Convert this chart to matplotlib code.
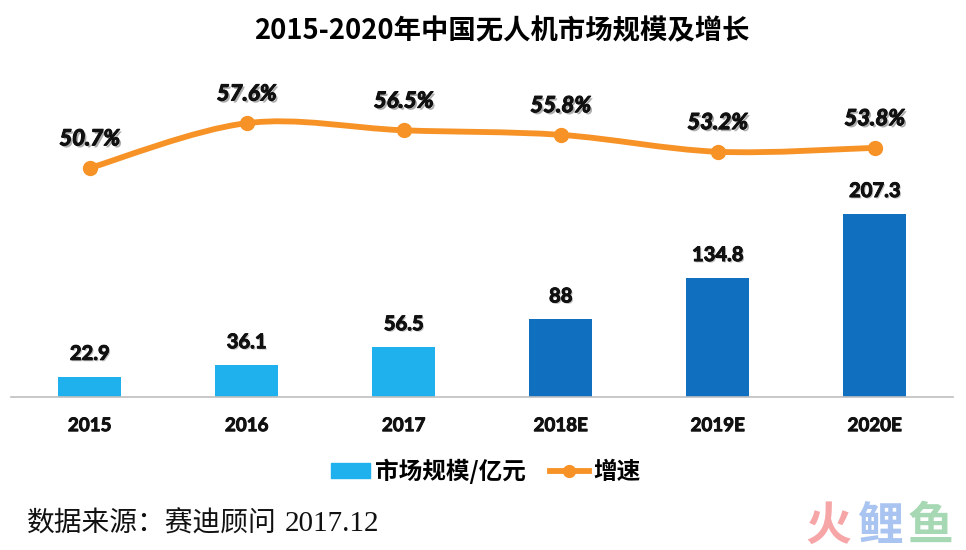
import matplotlib
matplotlib.use("Agg")
import matplotlib.pyplot as plt
import matplotlib.patheffects as pe
from matplotlib.path import Path
from matplotlib.patches import PathPatch, Patch
from matplotlib.lines import Line2D

categories = ["2015", "2016", "2017", "2018E", "2019E", "2020E"]
market_size = [22.9, 36.1, 56.5, 88, 134.8, 207.3]
growth = [50.7, 57.6, 56.5, 55.8, 53.2, 53.8]
growth_labels = ["50.7%", "57.6%", "56.5%", "55.8%", "53.2%", "53.8%"]
size_labels = ["22.9", "36.1", "56.5", "88", "134.8", "207.3"]
bar_colors = ["#1FB1EE", "#1FB1EE", "#1FB1EE", "#1070BF", "#1070BF", "#1070BF"]
LINE = "#F79227"
CJK = ["Noto Sans CJK SC", "DejaVu Sans"]
LATIN_BOLD = ["Lato", "Noto Sans CJK SC"]

W, H = 966, 550
fig = plt.figure(figsize=(W / 100, H / 100), dpi=100, facecolor="white")
top_px, base_px = 60, 397
ax = fig.add_axes([11.2 / W, 1 - base_px / H, 942 / W, (base_px - top_px) / H])
ax.set_xlim(-0.5, 5.5)
ax.set_ylim(0, (base_px - top_px) / 0.883)
ax.patch.set_alpha(0)
for s in ["top", "left", "right"]:
    ax.spines[s].set_visible(False)
ax.spines["bottom"].set_color("#BFBFBF")
ax.spines["bottom"].set_linewidth(1.2)
ax.set_yticks([])
x = list(range(len(categories)))
ax.bar(x, market_size, width=0.4, color=bar_colors, zorder=2)
ax.set_xticks(x)
ax.set_xticklabels(categories, family=LATIN_BOLD, fontweight="bold", fontsize=13.5, color="#111111",
                   path_effects=[pe.withStroke(linewidth=0.7, foreground="#111111")])
ax.tick_params(axis="x", length=0, pad=14.5)
for xi, v, lab in zip(x, market_size, size_labels):
    ax.annotate(lab, (xi, v), xytext=(0, 16.5), textcoords="offset points", ha="center", va="center",
                family=LATIN_BOLD, fontweight="bold", fontsize=14.5, color="#111111",
                path_effects=[pe.withSimplePatchShadow(offset=(1, -1), shadow_rgbFace="#999999", alpha=0.6),
                              pe.withStroke(linewidth=0.7, foreground="#111111")])

ax2 = fig.add_axes(ax.get_position(), sharex=ax)
ax2.patch.set_alpha(0)
ax2.axis("off")
ax2.set_ylim(50.7 - (base_px - 168) / 6.5, 50.7 + (168 - top_px) / 6.5)

# smooth curve through the data points (cubic Bezier segments)
verts = [(x[0], growth[0])]
codes = [Path.MOVETO]
n = len(x)
for i in range(n - 1):
    a, b = max(i - 1, 0), min(i + 2, n - 1)
    c1 = (x[i] + (x[i + 1] - x[a]) / 6, growth[i] + (growth[i + 1] - growth[a]) / 6)
    c2 = (x[i + 1] - (x[b] - x[i]) / 6, growth[i + 1] - (growth[b] - growth[i]) / 6)
    verts += [c1, c2, (x[i + 1], growth[i + 1])]
    codes += [Path.CURVE4] * 3
ax2.add_patch(PathPatch(Path(verts, codes), fc="none", ec=LINE, lw=4.2, capstyle="round", zorder=3))
ax2.plot(x, growth, ls="none", marker="o", ms=10, color=LINE, zorder=4)
for xi, v, lab in zip(x, growth, growth_labels):
    ax2.annotate(lab, (xi, v), xytext=(0, 21), textcoords="offset points", ha="center", va="center",
                 family=LATIN_BOLD, fontweight="bold", fontstyle="italic", fontsize=16, color="#111111",
                 path_effects=[pe.withSimplePatchShadow(offset=(1.5, -1.5), shadow_rgbFace="#777777", alpha=0.6),
                               pe.withStroke(linewidth=0.8, foreground="#111111")])

def fx(px): return px / W
def fy(py): return 1 - py / H

fig.text(fx(502), fy(31), "2015-2020年中国无人机市场规模及增长", ha="center", va="center",
         family=CJK, fontweight="bold", fontsize=19.7, color="black")

# legend entries
handles = [Patch(color="#1FB1EE"),
           Line2D([0], [0], color=LINE, lw=4.2, marker="o", ms=8.5)]
fig.legend(handles, ["市场规模/亿元", "增速"], loc="center", bbox_to_anchor=(fx(486), fy(471)),
           ncol=2, frameon=False, prop={"family": CJK, "weight": "bold", "size": 17},
           handlelength=1.65, handleheight=0.6, handletextpad=0.2, columnspacing=1.0)

fig.text(fx(27), fy(524), "数据来源：赛迪顾问", ha="left", va="center", family=CJK, fontweight="medium", fontsize=20, color="#111111")
fig.text(fx(285), fy(524), "2017.12", ha="left", va="center", family=["Liberation Serif"], fontsize=21, color="#111111")

for px, ch, col in [(828, "火", "#F7A6A8"), (880, "鲤", "#A9C4F0"), (930, "鱼", "#A6D8B4")]:
    fig.text(fx(px), fy(527), ch, ha="center", va="center", family=CJK, fontweight="bold", fontsize=33, color=col)

fig.savefig("out.png", dpi=100)
